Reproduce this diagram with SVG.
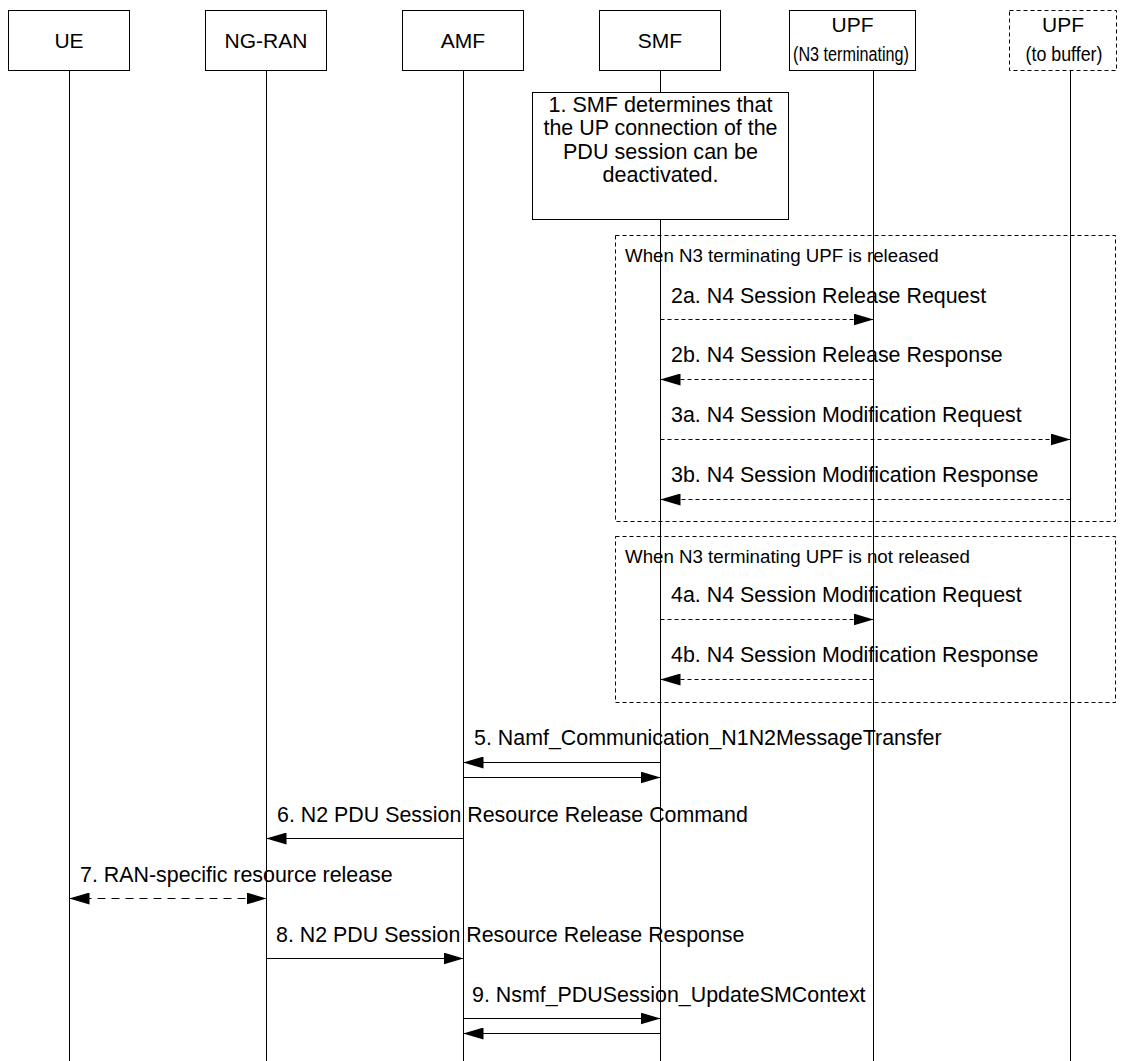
<svg xmlns="http://www.w3.org/2000/svg" width="1125" height="1061" viewBox="0 0 1125 1061">
<defs>
<style>
text{font-family:"Liberation Sans",Arial,sans-serif;fill:#000}
.hd{font-size:21px;text-anchor:middle}
.s1{font-size:22.5px;text-anchor:middle}
.sub{font-size:20px;text-anchor:middle}
.lbl{font-size:21.4px}
.frm{font-size:18.7px}
.box{fill:#fff;stroke:#000;stroke-width:1}
.dbox{fill:#fff;stroke:#000;stroke-width:1;stroke-dasharray:4 3}
.frame{fill:none;stroke:#000;stroke-width:1;stroke-dasharray:4 3}
.life{stroke:#000;stroke-width:1;fill:none}
.msg{stroke:#000;stroke-width:1;fill:none;marker-end:url(#ah)}
.dmsg{stroke:#000;stroke-width:1;fill:none;stroke-dasharray:4 3;marker-end:url(#ah)}
.bmsg{stroke:#000;stroke-width:1;fill:none;stroke-dasharray:8 6;marker-end:url(#ah);marker-start:url(#ah)}
</style>
<marker id="ah" viewBox="0 0 20 12" refX="20" refY="6" markerWidth="20" markerHeight="12" markerUnits="userSpaceOnUse" orient="auto-start-reverse">
<path d="M0,0 L20,6 L0,12 Z" fill="#000"/>
</marker>
</defs>
<rect width="1125" height="1061" fill="#fff"/>

<g id="lifelines">
<line class="life" x1="69.5" y1="70" x2="69.5" y2="1061"/>
<line class="life" x1="266.5" y1="70" x2="266.5" y2="1061"/>
<line class="life" x1="463.5" y1="70" x2="463.5" y2="1061"/>
<line class="life" x1="660.5" y1="70" x2="660.5" y2="1061"/>
<line class="life" x1="873.5" y1="70" x2="873.5" y2="1061"/>
<line class="life" x1="1070.5" y1="70" x2="1070.5" y2="1061"/>
</g>

<g id="node-ue">
<rect class="box" x="8.5" y="10.5" width="121" height="60"/>
<text class="hd" x="69" y="47.5">UE</text>
</g>
<g id="node-ngran">
<rect class="box" x="205.5" y="10.5" width="121" height="60"/>
<text class="hd" x="266" y="47.5">NG-RAN</text>
</g>
<g id="node-amf">
<rect class="box" x="402.5" y="10.5" width="121" height="60"/>
<text class="hd" x="463" y="47.5">AMF</text>
</g>
<g id="node-smf">
<rect class="box" x="599.5" y="10.5" width="121" height="60"/>
<text class="hd" x="660" y="47.5">SMF</text>
</g>
<g id="node-upf-n3">
<rect class="box" x="789.5" y="10.5" width="126" height="60"/>
<text class="hd" x="852.5" y="32">UPF</text>
<text class="sub" x="851" y="61" textLength="116" lengthAdjust="spacingAndGlyphs">(N3 terminating)</text>
</g>
<g id="node-upf-buffer">
<rect class="dbox" x="1009.5" y="10.5" width="107" height="60"/>
<text class="hd" x="1063" y="32">UPF</text>
<text class="sub" x="1064" y="61" textLength="77" lengthAdjust="spacingAndGlyphs">(to buffer)</text>
</g>

<g id="node-step1">
<rect class="box" x="532.5" y="92.5" width="256" height="127"/>
<text class="s1" x="660.5" y="111.5" textLength="224" lengthAdjust="spacingAndGlyphs">1. SMF determines that</text>
<text class="s1" x="660.5" y="135" textLength="234" lengthAdjust="spacingAndGlyphs">the UP connection of the</text>
<text class="s1" x="660.5" y="158.5" textLength="195" lengthAdjust="spacingAndGlyphs">PDU session can be</text>
<text class="s1" x="660.5" y="182" textLength="116" lengthAdjust="spacingAndGlyphs">deactivated.</text>
</g>

<g id="frame-released">
<rect class="frame" x="615.5" y="235.5" width="500" height="286"/>
<text class="frm" x="625" y="262">When N3 terminating UPF is released</text>
</g>
<g id="frame-not-released">
<rect class="frame" x="615.5" y="536.5" width="500" height="166"/>
<text class="frm" x="625" y="563">When N3 terminating UPF is not released</text>
</g>
<g id="lifeline-overlay">
<line class="life" x1="660.5" y1="220" x2="660.5" y2="703"/>
</g>

<g id="connectors">
<line class="dmsg" x1="660.5" y1="319.5" x2="873.5" y2="319.5"/>
<line class="dmsg" x1="873.5" y1="379.5" x2="660.5" y2="379.5"/>
<line class="dmsg" x1="660.5" y1="439.5" x2="1070.5" y2="439.5"/>
<line class="dmsg" x1="1070.5" y1="499.5" x2="660.5" y2="499.5"/>
<line class="dmsg" x1="660.5" y1="619.5" x2="873.5" y2="619.5"/>
<line class="dmsg" x1="873.5" y1="679.5" x2="660.5" y2="679.5"/>
<line class="msg" x1="660.5" y1="762.5" x2="463.5" y2="762.5"/>
<line class="msg" x1="463.5" y1="777.5" x2="660.5" y2="777.5"/>
<line class="msg" x1="463.5" y1="838.5" x2="266.5" y2="838.5"/>
<line class="bmsg" x1="69.5" y1="898.5" x2="266.5" y2="898.5"/>
<line class="msg" x1="266.5" y1="958.5" x2="463.5" y2="958.5"/>
<line class="msg" x1="463.5" y1="1018.5" x2="660.5" y2="1018.5"/>
<line class="msg" x1="660.5" y1="1033.5" x2="463.5" y2="1033.5"/>
</g>

<g id="labels">
<text class="lbl" x="671" y="303">2a. N4 Session Release Request</text>
<text class="lbl" x="671" y="362">2b. N4 Session Release Response</text>
<text class="lbl" x="671" y="422">3a. N4 Session Modification Request</text>
<text class="lbl" x="671" y="482">3b. N4 Session Modification Response</text>
<text class="lbl" x="671" y="602">4a. N4 Session Modification Request</text>
<text class="lbl" x="671" y="662">4b. N4 Session Modification Response</text>
<text class="lbl" x="474" y="745">5. Namf_Communication_N1N2MessageTransfer</text>
<text class="lbl" x="277" y="822">6. N2 PDU Session Resource Release Command</text>
<text class="lbl" x="80" y="882">7. RAN-specific resource release</text>
<text class="lbl" x="276" y="942">8. N2 PDU Session Resource Release Response</text>
<text class="lbl" x="472" y="1002">9. Nsmf_PDUSession_UpdateSMContext</text>
</g>
</svg>
